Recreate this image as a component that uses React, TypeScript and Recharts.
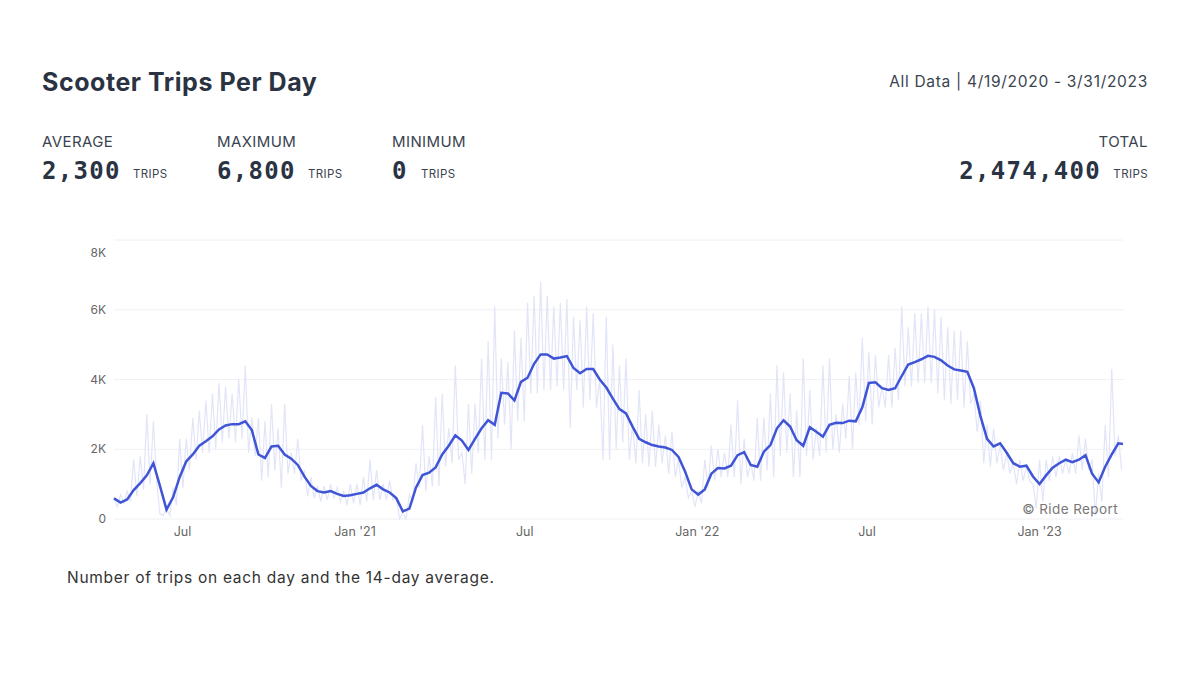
import { CartesianGrid, ComposedChart, Line, XAxis, YAxis } from "recharts";

// thousands of trips, one value per week starting 4/19/2020
const avgTrips = [
  0.59, 0.47, 0.56, 0.83, 1.03, 1.25, 1.6, 0.95, 0.27, 0.62,
  1.2, 1.65, 1.85, 2.1, 2.23, 2.37, 2.57, 2.68, 2.72, 2.72,
  2.8, 2.55, 1.85, 1.75, 2.08, 2.1, 1.85, 1.73, 1.55, 1.22,
  0.95, 0.8, 0.76, 0.8, 0.72, 0.66, 0.68, 0.72, 0.76, 0.88,
  0.98, 0.85, 0.76, 0.6, 0.22, 0.3, 0.9, 1.26, 1.33, 1.48,
  1.85, 2.1, 2.4, 2.25, 1.98, 2.3, 2.6, 2.83, 2.7, 3.62,
  3.6, 3.4, 3.93, 4.05, 4.45, 4.72, 4.72, 4.6, 4.63, 4.67,
  4.33, 4.18, 4.3, 4.3, 4.0, 3.77, 3.45, 3.15, 3.03, 2.65,
  2.3, 2.2, 2.12, 2.08, 2.05, 1.98, 1.78, 1.36, 0.85, 0.7,
  0.85, 1.3, 1.46, 1.45, 1.53, 1.83, 1.92, 1.55, 1.5, 1.93,
  2.12, 2.6, 2.83, 2.65, 2.26, 2.1, 2.63, 2.5, 2.36, 2.7,
  2.76, 2.75, 2.82, 2.8, 3.2, 3.9, 3.92, 3.75, 3.7, 3.75,
  4.1, 4.43, 4.5, 4.58, 4.68, 4.65, 4.55, 4.4, 4.29, 4.26,
  4.22, 3.75, 2.95, 2.3, 2.08, 2.17, 1.9, 1.6, 1.5, 1.53,
  1.22, 1.0, 1.25, 1.47, 1.6, 1.7, 1.63, 1.7, 1.83, 1.3,
  1.05, 1.5, 1.85, 2.17,
];
const lastAvg = 2.15;

// weekly high and low of the daily counts
const dailyPeaks = [
  0.6, 0.7, 0.8, 1.7, 1.8, 3.0, 2.8, 0.15, 0.3, 0.9,
  2.3, 2.3, 2.9, 3.1, 3.4, 3.6, 3.9, 3.8, 3.6, 4.0,
  4.4, 2.9, 2.9, 2.8, 3.3, 2.6, 3.3, 1.9, 2.3, 1.4,
  1.2, 0.95, 0.95, 1.0, 0.9, 0.8, 1.0, 1.0, 1.2, 1.7,
  1.4, 1.0, 1.1, 0.6, 0.2, 0.7, 1.6, 2.7, 1.8, 3.5,
  3.6, 2.6, 4.4, 1.9, 3.3, 3.3, 4.6, 5.1, 6.1, 4.6,
  4.5, 5.4, 5.2, 6.2, 6.4, 6.8, 6.4, 6.1, 6.2, 6.3,
  5.8, 5.7, 6.1, 5.9, 4.0, 5.8, 5.0, 4.4, 4.6, 2.7,
  3.7, 3.0, 3.1, 2.7, 2.4, 2.5, 1.7, 1.2, 0.8, 0.8,
  1.7, 2.1, 2.0, 1.9, 2.7, 3.4, 2.3, 1.6, 2.9, 2.9,
  3.6, 4.4, 4.2, 3.6, 3.1, 4.6, 3.7, 2.6, 4.4, 4.6,
  3.0, 3.3, 4.1, 4.2, 5.2, 4.8, 4.7, 3.8, 4.7, 4.9,
  6.1, 5.5, 5.9, 5.9, 6.1, 6.0, 5.8, 5.5, 5.4, 5.4,
  5.1, 3.6, 3.4, 2.7, 2.6, 2.1, 1.9, 1.6, 1.7, 1.5,
  1.0, 1.7, 1.7, 1.8, 1.8, 1.7, 1.9, 2.4, 2.3, 1.7,
  1.3, 2.7, 4.3, 2.4,
];
const dailyLows = [
  0.35, 0.45, 0.5, 0.65, 0.85, 1.0, 1.1, 0.1, 0.1, 0.4,
  0.9, 1.4, 1.7, 1.9, 1.9, 2.0, 2.2, 2.3, 2.2, 2.3,
  1.9, 1.8, 1.1, 1.2, 1.4, 0.9, 1.3, 1.3, 1.1, 0.65,
  0.6, 0.5, 0.55, 0.6, 0.5, 0.4, 0.45, 0.4, 0.5, 0.55,
  0.55, 0.55, 0.55, 0, 0, 0.5, 0.9, 0.8, 0.95, 0.95,
  1.5, 1.6, 1.7, 1.0, 1.3, 1.9, 1.7, 1.7, 2.3, 2.7,
  2.0, 2.8, 2.8, 3.6, 3.6, 3.7, 3.7, 3.8, 3.7, 2.6,
  3.7, 3.2, 3.4, 3.2, 1.7, 1.7, 2.0, 2.2, 1.7, 1.6,
  1.6, 1.5, 1.5, 1.6, 1.3, 1.2, 0.9, 0.6, 0.35, 0.45,
  0.9, 1.1, 1.2, 1.2, 1.2, 1.0, 1.2, 1.1, 1.1, 1.4,
  1.2, 1.8, 1.9, 1.2, 1.2, 1.8, 1.7, 1.8, 1.9, 2.0,
  1.9, 2.3, 2.0, 2.7, 2.8, 2.7, 3.2, 3.2, 3.2, 3.4,
  3.8, 3.8, 3.9, 3.9, 3.9, 3.6, 3.4, 3.3, 3.4, 3.2,
  3.3, 2.5, 1.6, 1.5, 1.6, 1.4, 1.3, 1.0, 1.1, 1.1,
  0.3, 0.5, 1.1, 1.2, 1.3, 1.3, 1.3, 1.4, 1.4, 0.1,
  0.5, 1.2, 1.8, 1.4,
];

const xTicks = [73, 257, 438, 622, 803, 987];
const xLabels = ["Jul", "Jan '21", "Jul", "Jan '22", "Jul", "Jan '23"];
const yTicks = [0, 2, 4, 6, 8];
const yLabels = ["0", "2K", "4K", "6K", "8K"];
const lastDay = 1076;

const rows: { day: number; avg?: number; daily?: number }[] = [];
avgTrips.forEach((avg, week) => {
  rows.push({ day: week * 7, avg, daily: dailyPeaks[week] });
  rows.push({ day: week * 7 + 3.5, daily: dailyLows[week] });
});
rows.push({ day: lastDay, avg: lastAvg });

const sans = "Inter, 'Open Sans', sans-serif";
const mono = "'DejaVu Sans Mono', monospace";
const dark = "#2a3342";

const stats = [
  { label: "AVERAGE", value: "2,300", x: 42, unitX: 133 },
  { label: "MAXIMUM", value: "6,800", x: 217, unitX: 308 },
  { label: "MINIMUM", value: "0", x: 392, unitX: 421 },
];

function Text({ x, y, right, size, color, weight, family, spacing, children }: any) {
  return (
    <div
      style={{
        position: "absolute",
        top: y,
        left: right ? undefined : x,
        right: right ? 1200 - x : undefined,
        fontFamily: family || sans,
        fontSize: size,
        fontWeight: weight || 400,
        letterSpacing: spacing || 0,
        color: color || dark,
        lineHeight: "20px",
        whiteSpace: "nowrap",
      }}
    >
      {children}
    </div>
  );
}

function YTick({ x, y, payload }: any) {
  const label = yLabels[yTicks.indexOf(payload.value)];
  // the top label sits below its grid line
  return (
    <text x={x} y={(payload.value === 8 ? y + 13 : y) + 4} textAnchor="end" fontSize={12} fontFamily={sans} fill="#666">
      {label}
    </text>
  );
}

function XTick({ x, y, payload }: any) {
  return (
    <text x={x} y={y + 9} textAnchor="middle" fontSize={12.5} fontFamily={sans} fill="#666">
      {xLabels[xTicks.indexOf(payload.value)]}
    </text>
  );
}

export default function App() {
  return (
    <div style={{ position: "absolute", left: 0, top: 0, width: 1200, height: 675, background: "#fff", overflow: "hidden" }}>
      <Text x={42} y={72} size={25} weight={700} spacing={0.55}>Scooter Trips Per Day</Text>
      <Text x={1148} y={72} right size={15.5} spacing={0.7} color="#3a4350">All Data | 4/19/2020 - 3/31/2023</Text>

      {stats.map((s) => (
        <div key={s.label}>
          <Text x={s.x} y={132} size={15} spacing={0.4} color="#3a4350">{s.label}</Text>
          <Text x={s.x} y={161} size={24} weight={700} family={mono} spacing={1.3}>{s.value}</Text>
          <Text x={s.unitX} y={164} size={11.5} spacing={0.4} color="#3a4350">TRIPS</Text>
        </div>
      ))}
      <Text x={1148} y={132} right size={15} spacing={0.4} color="#3a4350">TOTAL</Text>
      <Text x={1101} y={161} right size={24} weight={700} family={mono} spacing={1.3}>2,474,400</Text>
      <Text x={1148} y={164} right size={11.5} spacing={0.4} color="#3a4350">TRIPS</Text>

      <div style={{ position: "absolute", left: 0, top: 0 }}>
        <ComposedChart
          width={1200}
          height={675}
          data={rows}
          margin={{ top: 240, right: 77, bottom: 126, left: 64 }}
        >
          <CartesianGrid stroke="#f0f0f5" vertical={false} />
          <XAxis
            dataKey="day"
            type="number"
            domain={[0, lastDay]}
            ticks={xTicks}
            tick={<XTick />}
            height={30}
            axisLine={false}
            tickLine={false}
            interval={0}
          />
          <YAxis
            type="number"
            domain={[0, 8]}
            ticks={yTicks}
            tick={<YTick />}
            width={50}
            axisLine={false}
            tickLine={false}
            interval={0}
          />
          <Line dataKey="daily" type="linear" stroke="#e2e5f8" strokeWidth={1.2} dot={false} connectNulls isAnimationActive={false} />
          <Line dataKey="avg" type="linear" stroke="#3f55d6" strokeWidth={2.5} dot={false} connectNulls isAnimationActive={false} />
        </ComposedChart>
      </div>

      <Text x={1118} y={499} right size={13.5} spacing={0.4} color="#777">© Ride Report</Text>
      <Text x={67} y={568} size={15.5} spacing={0.72} color="#333">Number of trips on each day and the 14-day average.</Text>
    </div>
  );
}
